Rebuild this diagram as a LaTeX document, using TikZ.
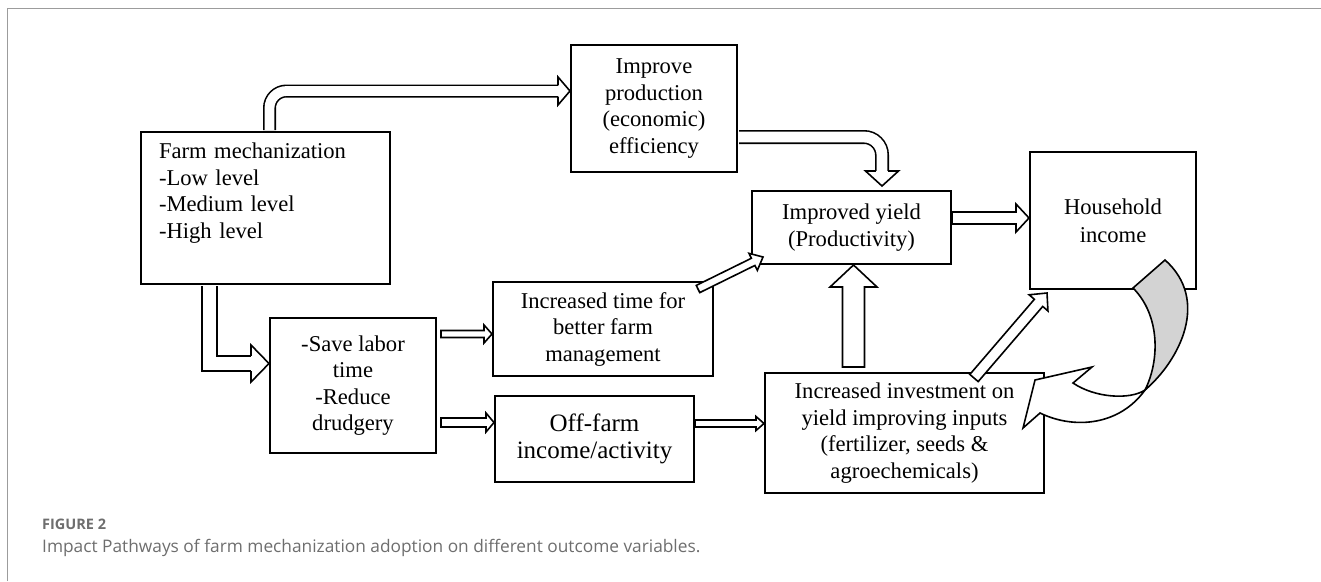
\documentclass[tikz,border=0pt]{standalone}
\usepackage{fontspec}
\setmainfont{Liberation Serif}
\newfontfamily\capfont{Open Sans}
\usetikzlibrary{calc,positioning}
\definecolor{pathInk}{HTML}{000000}
\definecolor{pathGrey}{HTML}{D3D3D3}
\definecolor{capGrey}{HTML}{6E6E6E}
\definecolor{frameGrey}{HTML}{9C9C9C}
\newcommand\boxfont{\fontsize{22.6}{26.5}\selectfont}
\newcommand\bigboxfont{\fontsize{25}{27}\selectfont}
\newcommand\fatarrow[5]{%
  \coordinate (fa) at ($(#2)!#5!(#1)$);
  \filldraw[blockline] ($(#1)!#3!90:(#2)$) -- ($(fa)!#3!90:(#2)$) -- ($(fa)!#4!90:(#2)$) -- (#2) -- ($(fa)!#4!-90:(#2)$) -- ($(fa)!#3!-90:(#2)$) -- ($(#1)!#3!-90:(#2)$) -- cycle;}
\newcommand\fathead[4]{%
  \filldraw[blockline] ($(#1)!#3!90:(#2)$) -- ($(#1)!#4!90:(#2)$) -- (#2) -- ($(#1)!#4!-90:(#2)$) -- ($(#1)!#3!-90:(#2)$);}
\begin{document}
\begin{tikzpicture}[x=1pt,y=-1pt,line join=miter]
\path[fill=white] (0,0) rectangle (1321,581);
\useasboundingbox (0,0) rectangle (1321,581);
\draw[frameGrey,line width=1pt] (7,581) -- (7,8) -- (1321,8);
\tikzset{box/.style={draw=pathInk,fill=white,line width=2pt,inner sep=0pt,align=center,font=\boxfont},blockline/.style={draw=pathInk,fill=white,line width=1.6pt},fatshaft/.style={draw=pathInk,line width=1.6pt,double=white,double distance=#1}}
\node[box,align=left,text width=213pt,minimum width=249pt,minimum height=152pt] (farm) at (265.5,208) {Farm mechanization\\-Low level\\-Medium level\\-High level\\\strut};
\node[box,minimum width=166pt,minimum height=127pt] (improve) at (654,108.5) {Improve\\production\\(economic)\\efficiency};
\node[box,minimum width=199pt,minimum height=73pt] (yield) at (851.5,227.5) {Improved yield\\(Productivity)};
\node[box,minimum width=166pt,minimum height=137pt,font=\fontsize{22.6}{28}\selectfont] (household) at (1113,220.5) {Household\\income};
\node[box,minimum width=166pt,minimum height=135pt] (save) at (353,385.5) {-Save labor\\time\\-Reduce\\drudgery};
\node[box,minimum width=220pt,minimum height=94pt] (time) at (603,329) {Increased time for\\better farm\\management};
\node[box,minimum width=199pt,minimum height=86pt,font=\bigboxfont] (offfarm) at (594.5,439) {Off-farm\\income/activity};
\node[box,minimum width=279pt,minimum height=120pt] (invest) at (904.5,433) {Increased investment on\\yield improving inputs\\(fertilizer, seeds \&\\agroechemicals)};
\coordinate (a1s) at ([xshift=4pt,yshift=1pt]farm.north);
\coordinate (a1t) at ([yshift=17.5pt]improve.west);
\coordinate (a1h) at ([xshift=-12pt]a1t);
\draw[fatshaft=9.8pt,rounded corners=17pt] (a1s) |- (a1h);
\fathead{a1h}{a1t}{5.7pt}{14pt}
\coordinate (a2s) at ([xshift=1pt,yshift=-28.5pt]improve.east);
\coordinate (a2t) at ([xshift=30.5pt,yshift=4pt]yield.north);
\coordinate (a2h) at ([yshift=15pt]a2t);
\draw[fatshaft=10.8pt,rounded corners=18pt] (a2s) -| (a2h);
\fathead{a2h}{a2t}{6.2pt}{16.5pt}
\coordinate (a4s) at ([xshift=-56pt,yshift=-1pt]farm.south);
\coordinate (a4t) at ([yshift=22pt]save.west);
\coordinate (a4h) at ([xshift=-18pt]a4t);
\draw[fatshaft=13.8pt] (a4s) |- (a4h);
\fathead{a4h}{a4t}{7.7pt}{18.5pt}
\coordinate (a3s) at ([yshift=9.5pt]yield.east);
\coordinate (a3t) at (a3s -| household.west);
\fatarrow{a3s}{a3t}{6pt}{14pt}{13pt}
\coordinate (a5s) at ([xshift=4pt,yshift=51.5pt]save.east);
\coordinate (a5t) at (a5s -| time.west);
\fatarrow{a5s}{a5t}{3.5pt}{9pt}{8pt}
\coordinate (a6s) at ([xshift=4pt,yshift=-37pt]save.east);
\coordinate (a6t) at (a6s -| offfarm.west);
\fatarrow{a6s}{a6t}{4.5pt}{9.5pt}{8pt}
\coordinate (a7s) at ([yshift=15.5pt]offfarm.east);
\coordinate (a7t) at (a7s -| invest.west);
\fatarrow{a7s}{a7t}{3.5pt}{7pt}{8pt}
\coordinate (a8s) at ([xshift=-51pt,yshift=5pt]invest.north);
\coordinate (a8t) at (a8s |- yield.south);
\fatarrow{a8s}{a8t}{11pt}{23.5pt}{22pt}
\coordinate (a9s) at ([xshift=-16pt,yshift=-8pt]time.north east);
\coordinate (a9t) at ([xshift=12pt,yshift=8pt]yield.south west);
\fatarrow{a9s}{a9t}{4pt}{9.5pt}{11pt}
\coordinate (a10s) at ([xshift=-71pt,yshift=-6pt]invest.north east);
\coordinate (a10t) at ([xshift=18pt,yshift=-3pt]household.south west);
\fatarrow{a10s}{a10t}{5.5pt}{12.4pt}{13pt}
% curved return arrow
\filldraw[blockline] (1035,380) -- (1092,367) -- (1073,383) .. controls (1095,398) and (1130,400) .. (1145,390) .. controls (1120,425) and (1075,430) .. (1040,413) -- (1023,428) -- cycle;
\filldraw[blockline,fill=pathGrey] (1145,390) .. controls (1180,360) and (1210,300) .. (1165,260) -- (1133,288) .. controls (1160,315) and (1160,360) .. (1145,390) -- cycle;
\node[anchor=west,inner sep=0pt,text=capGrey,font=\capfont\bfseries\fontsize{14.5}{16}\selectfont] (figlabel) at (42,524) {FIGURE 2};
\node[anchor=west,inner sep=0pt,text=capGrey,font=\capfont\fontsize{17.3}{20}\selectfont] (figcaption) at (42,548) {Impact Pathways of farm mechanization adoption on different outcome variables.};
\end{tikzpicture}
\end{document}
